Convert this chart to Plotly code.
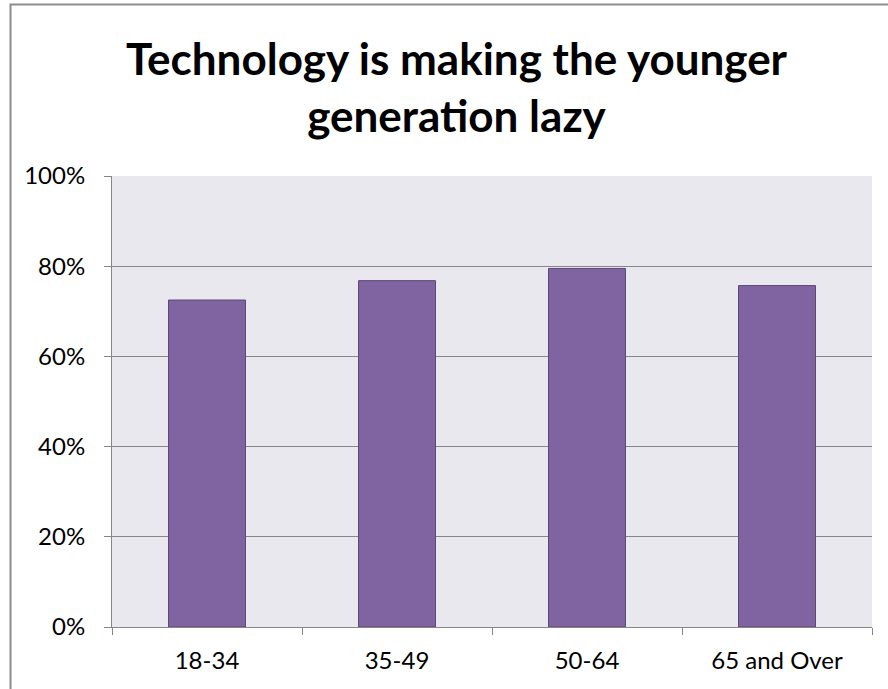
import plotly.graph_objects as go

categories = ["18-34", "35-49", "50-64", "65 and Over"]
values = [0.725, 0.768, 0.795, 0.757]
y_tickvals = [0, 0.2, 0.4, 0.6, 0.8, 1.0]
y_ticktext = ["0%", "20%", "40%", "60%", "80%", "100%"]
title_text = "Technology is making the younger<br>generation lazy"

W, H = 888, 689
L, R, T, B = 112, 872, 176, 627

FONT = "Lato, 'Open Sans', sans-serif"
GRID = "#868686"

fig = go.Figure(
    go.Bar(
        x=categories,
        y=values,
        width=0.405,
        marker=dict(color="#8064A2", line=dict(color="#5C4776", width=1)),
        hoverinfo="x+y",
    )
)

def px_x(x):
    return (x - L) / (R - L)

def px_y(y):
    return (B - y) / (B - T)

fig.update_layout(
    width=W,
    height=H,
    margin=dict(l=L, r=W - R, t=T, b=H - B, pad=0),
    paper_bgcolor="white",
    plot_bgcolor="#EAE8EF",
    showlegend=False,
    font=dict(family=FONT, color="black", size=24),
    annotations=[
        dict(
            text=title_text,
            xref="paper", yref="paper",
            x=px_x(457), y=px_y(86),
            xanchor="center", yanchor="middle",
            showarrow=False,
            font=dict(family=FONT, size=44, color="black", weight="bold"),
            align="center",
        )
    ],
    shapes=[
        dict(
            type="rect", xref="paper", yref="paper",
            x0=px_x(10.5), x1=px_x(905), y0=px_y(4.5), y1=px_y(710),
            line=dict(color="#8C8C8C", width=2), fillcolor="rgba(0,0,0,0)",
            layer="below",
        )
    ],
)

fig.update_xaxes(
    type="category",
    showgrid=False,
    showline=True, linecolor=GRID, linewidth=1,
    ticks="outside", tickson="boundaries", ticklen=7, tickcolor=GRID, tickwidth=1,
    tickfont=dict(family=FONT, size=24, color="black"),
    ticklabelstandoff=12,
)

fig.update_yaxes(
    range=[0, 1.0],
    tickvals=y_tickvals,
    ticktext=y_ticktext,
    showgrid=True, gridcolor=GRID, gridwidth=1,
    showline=True, linecolor=GRID, linewidth=1,
    ticks="outside", ticklen=7, tickcolor=GRID, tickwidth=1,
    tickfont=dict(family=FONT, size=24, color="black"),
    ticklabelstandoff=14,
    zeroline=False,
)

fig.write_html(
    "out.html",
    config={"displayModeBar": False},
    post_script="document.body.style.margin='0';",
)
